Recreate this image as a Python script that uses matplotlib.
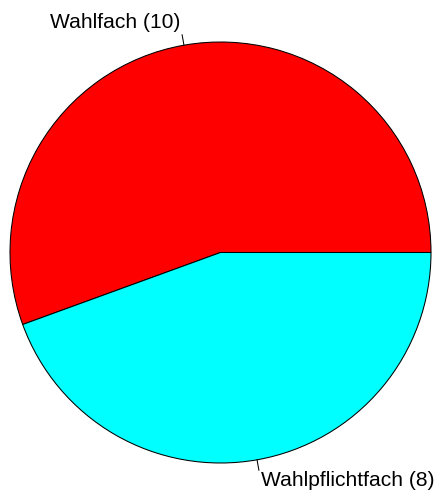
import matplotlib
matplotlib.use("Agg")
import matplotlib.pyplot as plt
import numpy as np

labels = ["Wahlfach (10)", "Wahlpflichtfach (8)"]
values = [10, 8]
colors = ["#FF0000", "#00FFFF"]

W, H = 440, 493
fig = plt.figure(figsize=(W / 100, H / 100), dpi=100)
ax = fig.add_axes([0, 0, 1, 1])

cx, cy, r = 220.5, H - 252.5, 210.5
wedges, texts = ax.pie(values, colors=colors, startangle=0, counterclock=True,
                       center=(cx, cy), radius=r, labels=None, frame=True,
                       wedgeprops=dict(edgecolor="black", linewidth=0.75))
ax.set_xlim(0, W)
ax.set_ylim(0, H)
ax.set_aspect("equal")
ax.axis("off")

total = sum(values)
start = 0.0
for lab, v in zip(labels, values):
    mid = np.deg2rad(start + v / total * 180.0)
    start += v / total * 360.0
    c, s = np.cos(mid), np.sin(mid)
    ax.plot([cx + c * r, cx + c * r * 1.05], [cy + s * r, cy + s * r * 1.05],
            color="black", linewidth=0.75)
    ax.text(cx + c * r * 1.1, cy + s * r * 1.1 + (2 if s > 0 else 0), lab,
            ha="left" if c > 0 else "right",
            va="center", fontsize=15.1, family="Liberation Sans")

fig.savefig("out.png", dpi=100)
